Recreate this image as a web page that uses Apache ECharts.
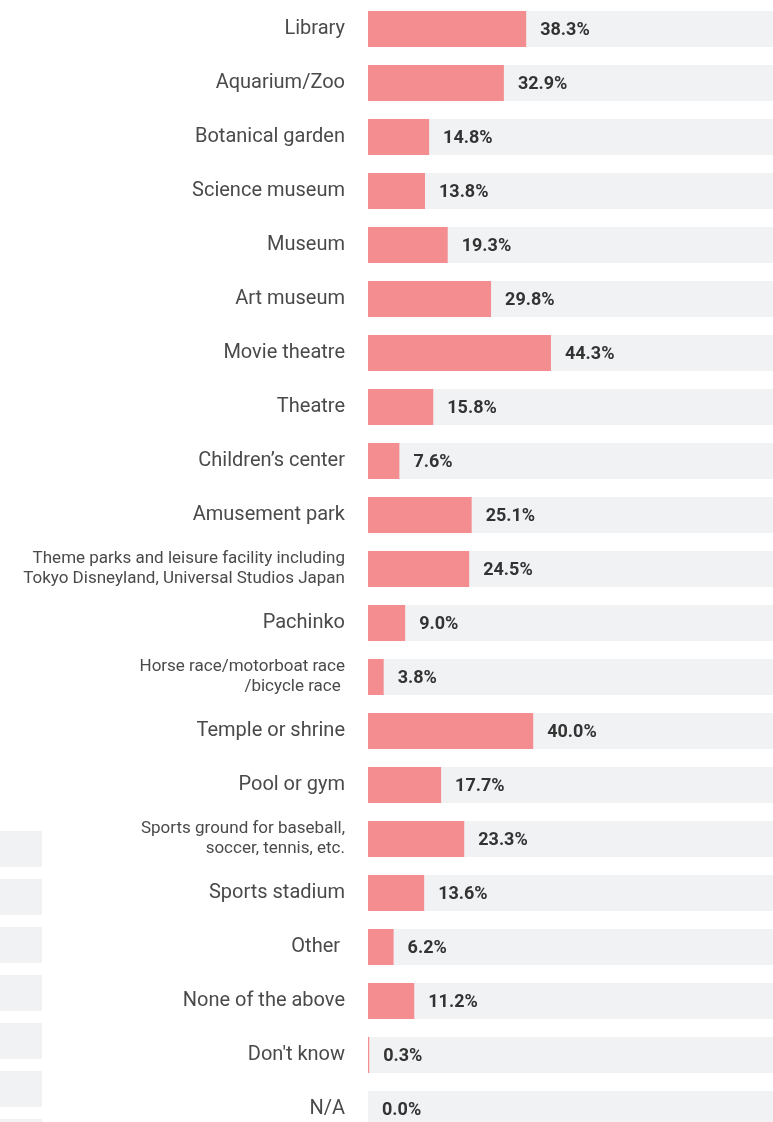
<!DOCTYPE html>
<html>
<head>
<meta charset="utf-8">
<script src="https://cdn.jsdelivr.net/npm/echarts@6/dist/echarts.min.js"></script>
<style>
  html, body { margin: 0; padding: 0; overflow: hidden; background: #fff; }
  #chart { width: 800px; height: 1200px; }
</style>
</head>
<body>
<div id="chart"></div>
<script>
  const categories = [
    'Library',
    'Aquarium/Zoo',
    'Botanical garden',
    'Science museum',
    'Museum',
    'Art museum',
    'Movie theatre',
    'Theatre',
    'Children\u2019s center',
    'Amusement park',
    'Theme parks and leisure facility including\nTokyo Disneyland, Universal Studios Japan',
    'Pachinko',
    'Horse race/motorboat race\n/bicycle race ',
    'Temple or shrine',
    'Pool or gym',
    'Sports ground for baseball,\nsoccer, tennis, etc.',
    'Sports stadium',
    'Other ',
    'None of the above',
    'Don\'t know',
    'N/A'
  ]
  const values = [38.3, 32.9, 14.8, 13.8, 19.3, 29.8, 44.3, 15.8, 7.6, 25.1, 24.5, 9.0, 3.8, 40.0, 17.7, 23.3, 13.6, 6.2, 11.2, 0.3, 0.0]
  // rows of a neighbouring chart that peek in on the left
  const sideRows = ['', '', '', '', '', '', '']
  const sideValues = [0, 0, 0, 0, 0, 0, 0]

  const PINK = '#f48d90'
  const GREY = '#f1f2f4'

  const chart = echarts.init(document.getElementById('chart'))

  // two-line labels are set smaller
  const yData = categories.map(name => {
    if (name.indexOf('\n') > -1) {
      return { value: name, textStyle: { fontSize: 17, lineHeight: 20 } }
    }
    return name
  })

  chart.setOption({
    animation: false,
    grid: [
      { left: 368, top: 2, width: 413, height: 1134 },
      { left: 0, top: 825, width: 42, height: 336 }
    ],
    xAxis: [
      { type: 'value', min: 0, max: 100, show: false, gridIndex: 0 },
      { type: 'value', min: 0, max: 1, show: false, gridIndex: 1 }
    ],
    yAxis: [
      {
        type: 'category',
        gridIndex: 0,
        inverse: true,
        data: yData,
        axisLine: { show: false },
        axisTick: { show: false },
        axisLabel: {
          margin: 23,
          fontFamily: 'Roboto',
          fontSize: 20,
          color: '#4a4a4a',
          align: 'right'
        }
      },
      {
        type: 'category',
        gridIndex: 1,
        inverse: true,
        data: sideRows,
        show: false
      }
    ],
    series: [
      {
        type: 'bar',
        xAxisIndex: 0,
        yAxisIndex: 0,
        data: values,
        barWidth: 36,
        itemStyle: { color: PINK },
        showBackground: true,
        backgroundStyle: { color: GREY },
        label: {
          show: true,
          position: 'right',
          distance: 14,
          offset: [0, 1],
          fontFamily: 'Roboto',
          fontWeight: 'bold',
          fontSize: 18,
          color: '#333',
          formatter: p => p.value.toFixed(1) + '%'
        }
      },
      {
        type: 'bar',
        xAxisIndex: 1,
        yAxisIndex: 1,
        data: sideValues,
        barWidth: 36,
        silent: true,
        showBackground: true,
        backgroundStyle: { color: GREY },
        itemStyle: { color: GREY }
      }
    ]
  })
</script>
</body>
</html>
